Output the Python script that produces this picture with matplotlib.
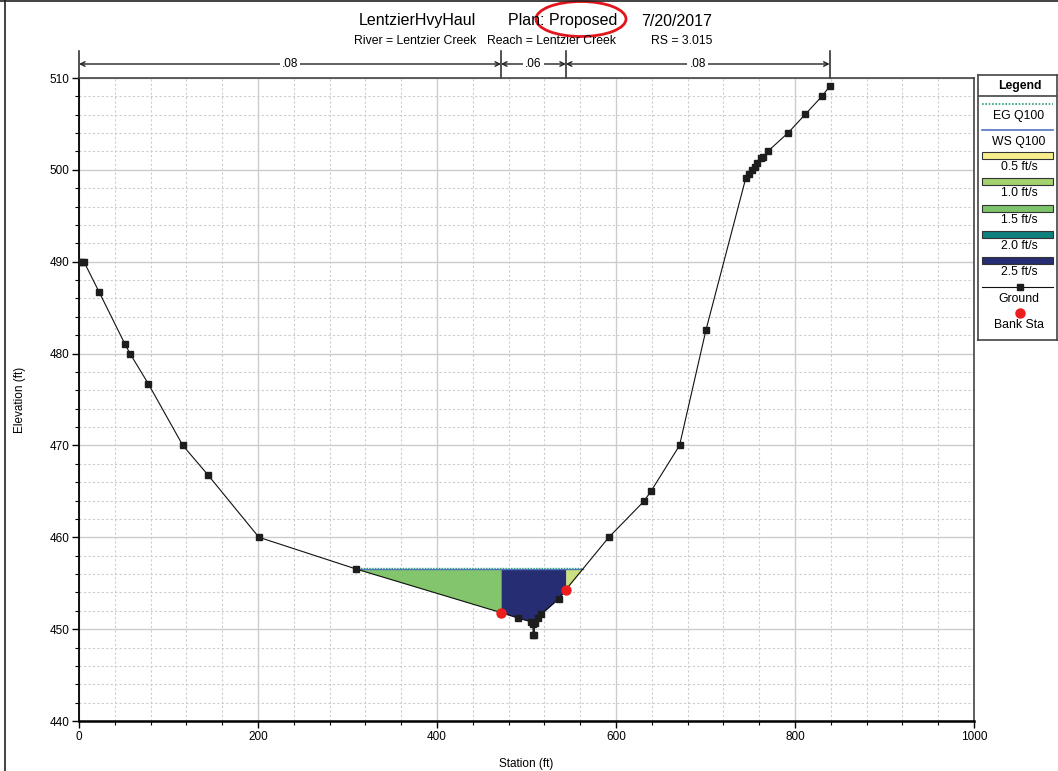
import numpy as np
import matplotlib
matplotlib.use('Agg')
import matplotlib.pyplot as plt
import matplotlib.transforms as mtransforms
from matplotlib.patches import Ellipse, Rectangle
from matplotlib.lines import Line2D

plt.rcParams['font.family'] = ['Liberation Sans', 'DejaVu Sans']

# ground profile (station ft, elevation ft)
station = [0, 3, 5.5, 22.5, 51.5, 57, 77.5, 116, 144, 201, 309.5, 471.5, 491, 505,
           507, 507.5, 508.5, 509, 513, 516, 536, 544, 592, 631, 639, 671, 700.6,
           745, 749, 751.5, 755, 758, 761.5, 764, 770, 792.5, 811.5, 830.5, 838.7]
elev = [490, 490, 490, 486.7, 481, 480, 476.7, 470, 466.8, 460, 456.55, 451.8, 451.2, 450.8,
        450.6, 449.4, 449.4, 450.7, 451.2, 451.6, 453.3, 454.3, 460, 463.9, 465, 470, 482.6,
        499.1, 499.6, 500, 500.35, 500.8, 501.3, 501.45, 502.05, 504.05, 506.05, 508.05, 509.1]
bank_sta = [471.5, 544]
ws_q100 = 456.6
eg_q100 = 456.68

# manning n
n_breaks = [0, 471.5, 544, 838.7]
n_values = ['.08', '.06', '.08']

# velocity legend
vel_labels = ['0.5 ft/s', '1.0 ft/s', '1.5 ft/s', '2.0 ft/s', '2.5 ft/s']
vel_colors = ['#f8ef8c', '#a3d26f', '#7ec46b', '#0e807d', '#262d72']
# colour of each flow subsection (left overbank, channel, right overbank)
sub_colors = ['#82c56c', '#262d72', '#cbe07e']

st = np.array(station, dtype=float)
el = np.array(elev, dtype=float)


def crossing(i0, i1):
    # station where ground crosses WS between point i0 and i1
    x0, x1, y0, y1 = st[i0], st[i1], el[i0], el[i1]
    return x0 + (ws_q100 - y0) * (x1 - x0) / (y1 - y0)


below = np.where(el <= ws_q100)[0]
ws_left = crossing(below[0] - 1, below[0])
ws_right = crossing(below[-1], below[-1] + 1)
edges = [ws_left, bank_sta[0], bank_sta[1], ws_right]

fig = plt.figure(figsize=(10.58, 7.71), dpi=100)
ax = fig.add_axes([79 / 1058, 50 / 771, 895 / 1058, 643 / 771])

for i in range(3):
    a, b = edges[i], edges[i + 1]
    xs = np.concatenate([[a], st[(st > a) & (st < b)], [b]])
    ax.fill_between(xs, np.interp(xs, st, el), ws_q100, color=sub_colors[i], lw=0, zorder=2)

ax.plot([ws_left, ws_right], [ws_q100, ws_q100], color='#5273c0', lw=1.0, zorder=3)
ax.plot([ws_left, ws_right], [eg_q100, eg_q100], color='#2fa07a', lw=1.0, ls=(0, (1, 1)), zorder=3)

ax.plot(st, el, color='#111111', lw=0.8, marker='s', ms=4.3, mfc='#1d1d1d', mec='#1d1d1d', zorder=5)
ax.plot(bank_sta, np.interp(bank_sta, st, el), 'o', color='#ee1d1d', ms=6.5, zorder=6)

ax.set_xlim(0, 1000)
ax.set_ylim(440, 510)
ax.set_xticks(range(0, 1001, 200))
ax.set_xticks(range(0, 1001, 40), minor=True)
ax.set_yticks(range(440, 511, 10))
ax.set_yticks(range(440, 511, 2), minor=True)
ax.grid(which='major', color='#cccccc', lw=1.0, ls='-', zorder=0)
ax.grid(which='minor', color='#cccccc', lw=0.8, ls=(0, (2, 2)), zorder=0)
ax.set_axisbelow(True)
ax.tick_params(which='major', length=5, width=1, labelsize=8.5, direction='out', pad=2)
ax.tick_params(which='minor', length=3, width=0.8, direction='out')
for s in ['top', 'right']:
    ax.spines[s].set_color('#444444')
    ax.spines[s].set_linewidth(1.2)
ax.spines['left'].set_linewidth(1.3)
ax.spines['bottom'].set_linewidth(1.8)
ax.set_xlabel('Station (ft)', fontsize=8.5, labelpad=11)
ax.set_ylabel('Elevation (ft)', fontsize=8.5, labelpad=17)

# manning n bar above the plot
trans = mtransforms.blended_transform_factory(ax.transData, ax.transAxes)
ny = 1 + 14 / 643
for xb in n_breaks:
    ax.plot([xb, xb], [1.0, 1 + 27 / 643], transform=trans, color='#222222', lw=1.1, clip_on=False)
for i, n in enumerate(n_values):
    x0, x1 = n_breaks[i], n_breaks[i + 1]
    ax.annotate('', xy=(x0, ny), xytext=(x1, ny), xycoords=trans, textcoords=trans,
                arrowprops=dict(arrowstyle='<->', lw=1, color='#222222', shrinkA=0, shrinkB=0,
                                mutation_scale=8))
    ax.text((x0 + x1) / 2, ny, n, transform=trans, ha='center', va='center', fontsize=8.5,
            bbox=dict(fc='white', ec='none', pad=1.5))


def fx(px):
    return px / 1058


def fy(py):
    return 1 - py / 771


# title lines
fig.text(fx(476), fy(21), 'LentzierHvyHaul', ha='right', va='center', fontsize=11.5)
fig.text(fx(508), fy(21), 'Plan: Proposed', ha='left', va='center', fontsize=11.5)
fig.text(fx(712), fy(21), '7/20/2017', ha='right', va='center', fontsize=11.5)
fig.text(fx(476), fy(41), 'River = Lentzier Creek', ha='right', va='center', fontsize=8.8)
fig.text(fx(487), fy(41), 'Reach = Lentzier Creek', ha='left', va='center', fontsize=8.8)
fig.text(fx(712), fy(41), 'RS = 3.015', ha='right', va='center', fontsize=8.8)
fig.patches.append(Ellipse((fx(581), fy(19)), 90 / 1058, 35 / 771, transform=fig.transFigure,
                           fill=False, ec='#e3151c', lw=2))

# figure frame
fig.lines.append(Line2D([fx(5), fx(5)], [0, 1], transform=fig.transFigure, color='#222222', lw=1.2))
fig.lines.append(Line2D([0, 1], [fy(1), fy(1)], transform=fig.transFigure, color='#222222', lw=1.2))

# legend box
lg = fig.add_axes([fx(978), fy(340), 79 / 1058, 265 / 771])
lg.set_xlim(978, 1057)
lg.set_ylim(340, 75)
lg.set_xticks([])
lg.set_yticks([])
for s in lg.spines.values():
    s.set_color('#444444')
    s.set_linewidth(1.2)
lg.text(1020, 86, 'Legend', ha='center', va='center', fontsize=8.8, fontweight='bold')
lg.plot([978, 1057], [96, 96], color='#444444', lw=1.2)
lg.plot([982, 1053], [103.5, 103.5], color='#2fa07a', lw=1.2, ls=(0, (1, 1)))
lg.text(1019, 115.5, 'EG Q100', ha='center', va='center', fontsize=8.8)
lg.plot([982, 1053], [130, 130], color='#5273c0', lw=1.2)
lg.text(1019, 141.5, 'WS Q100', ha='center', va='center', fontsize=8.8)
ys = [155.5, 181.5, 208, 234, 260]
for y, c, lab in zip(ys, vel_colors, vel_labels):
    lg.add_patch(Rectangle((982, y - 3.5), 71, 7, fc=c, ec='#333333', lw=0.8))
    lg.text(1019, y + 12, lab, ha='center', va='center', fontsize=8.8)
lg.plot([982, 1053], [287, 287], color='#111111', lw=0.8)
lg.plot([1020], [287], 's', color='#1d1d1d', ms=4.3)
lg.text(1019, 298.5, 'Ground', ha='center', va='center', fontsize=8.8)
lg.plot([1020], [313], 'o', color='#ee1d1d', ms=6.5)
lg.text(1019, 324.5, 'Bank Sta', ha='center', va='center', fontsize=8.8)

fig.savefig('out.png', dpi=100)
